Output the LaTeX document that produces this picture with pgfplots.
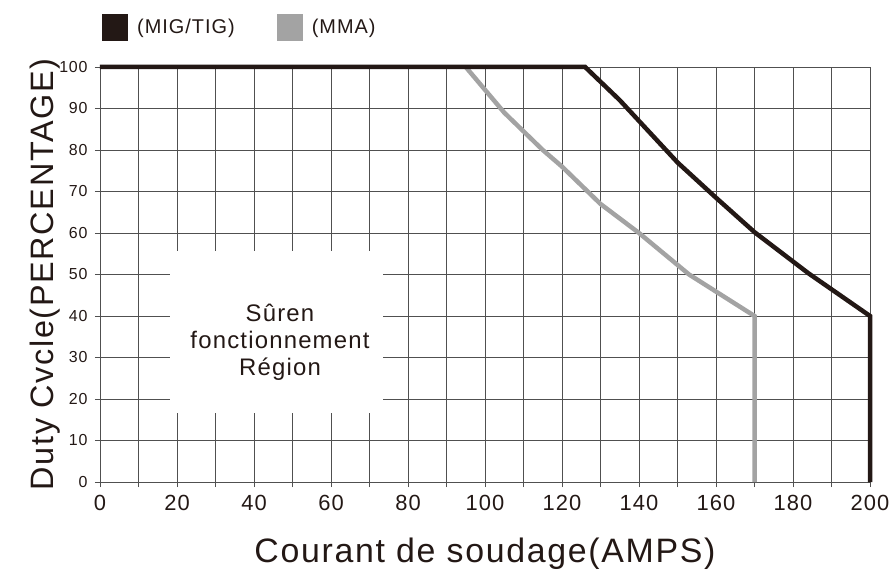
\documentclass[border=0pt]{standalone}
\usepackage{fontspec}
\setmainfont{Liberation Sans}[LetterSpace=5]
\usepackage{pgfplots}
\pgfplotsset{compat=1.18}
\definecolor{migc}{HTML}{231815}
\definecolor{mmac}{HTML}{A3A3A3}
\definecolor{gridc}{HTML}{505050}
\begin{document}
\begin{tikzpicture}
\begin{axis}[
  name=ax,
  scale only axis, width=770bp, height=415bp,
  xmin=0, xmax=200, ymin=0, ymax=100,
  xtick={0,20,...,200}, minor xtick={10,30,...,190},
  ytick={0,10,...,100},
  grid=both,
  major grid style={gridc, line width=0.9bp},
  minor grid style={gridc, line width=0.9bp},
  axis x line*=bottom, axis y line*=left,
  axis line style={gridc, line width=0.9bp, -},
  tick align=outside, major tick length=5bp, minor tick length=5bp,
  tick style={gridc, line width=0.9bp},
  /pgf/number format/assume math mode=true,
  x tick label style={font=\fontsize{22}{22}\selectfont, text=migc, yshift=-5bp},
  y tick label style={font=\fontsize{16}{16}\selectfont, text=migc, xshift=-4bp},
  xlabel={Courant de soudage(AMPS)},
  xlabel style={font=\fontsize{34}{34}\selectfont, text=migc,
    at={(axis description cs:0.5,0)}, anchor=base, yshift=-80bp},
  ylabel={Duty Cvcle(PERCENTAGE)},
  ylabel style={font=\fontsize{32.5}{32.5}\selectfont, text=migc,
    at={(axis description cs:0,0.5)}, anchor=base, yshift=46bp},
  clip=false,
  legend columns=2,
  legend style={at={(0,1)}, anchor=south west, draw=none, fill=none,
    font=\fontsize{20}{20}\selectfont, text=migc, yshift=24bp, xshift=-1bp,
    /tikz/every odd column/.append style={column sep=7bp},
    /tikz/every even column/.append style={column sep=40bp}},
  legend image code/.code={\fill[#1] (0bp,-13.5bp) rectangle (26bp,13.5bp);},
]
\addlegendimage{fill=migc, draw=none}
\addlegendentry{(MIG/TIG)}
\addlegendimage{fill=mmac, draw=none}
\addlegendentry{(MMA)}

\addplot[draw=none, fill=white, forget plot] coordinates {(18.2,16.7) (73.4,16.7) (73.4,55.7) (18.2,55.7)} -- cycle;

\addplot[mmac, line width=4.5bp, forget plot] coordinates {
  (95,100) (105,89) (115,80) (120,76) (130,67) (140,60) (153,50) (170,40) (170,0)};
\addplot[migc, line width=4.5bp, forget plot] coordinates {
  (0,100) (126,100) (135,92) (150,77) (160,68.5) (170,60.2) (184,50.3) (200,40) (200,0)};

\node[align=center, font=\fontsize{24}{27}\selectfont, text=migc] at (axis cs:46.75,33.7)
  {Sûren\\fonctionnement\\Région};
\end{axis}
\pgfresetboundingbox
\path ([xshift=-100bp,yshift=-88bp]ax.south west) rectangle ([xshift=20bp,yshift=67bp]ax.north east);
\end{tikzpicture}
\end{document}
